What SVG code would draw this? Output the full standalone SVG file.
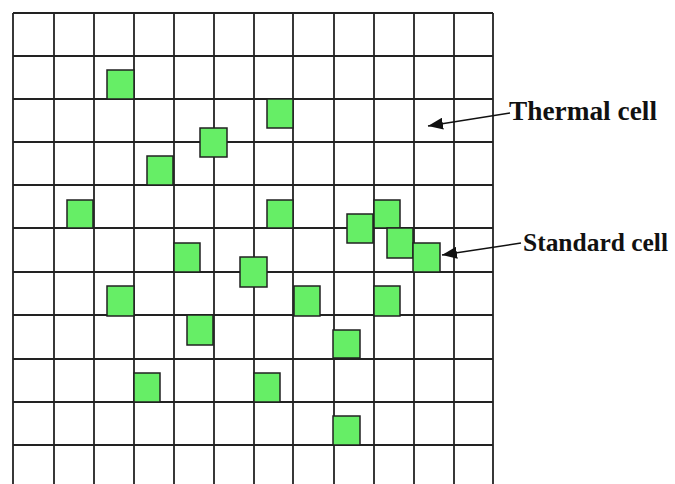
<svg xmlns="http://www.w3.org/2000/svg" width="675" height="484" viewBox="0 0 675 484">
<style>
.grid line{stroke:#222;stroke-width:1.8}
.cell{fill:#66ee66;stroke:#222;stroke-width:1.5}
.lbl{font-family:"Liberation Serif","Times New Roman",serif;font-weight:bold;font-size:27px;fill:#111}
.lbl2{font-size:26px}
.arr{stroke:#111;stroke-width:1.5;fill:none}
</style>
<defs>
<marker id="ah" markerWidth="16" markerHeight="12" refX="15" refY="6" orient="auto" markerUnits="userSpaceOnUse">
<path d="M0,0 L15,6 L0,12 Z" fill="#111"/>
</marker>
</defs>
<rect width="675" height="484" fill="#fff"/>
<g id="grid" class="grid">
<line x1="13" y1="13" x2="13" y2="484"/>
<line x1="54" y1="13" x2="54" y2="484"/>
<line x1="94" y1="13" x2="94" y2="484"/>
<line x1="134" y1="13" x2="134" y2="484"/>
<line x1="174" y1="13" x2="174" y2="484"/>
<line x1="214" y1="13" x2="214" y2="484"/>
<line x1="254" y1="13" x2="254" y2="484"/>
<line x1="293" y1="13" x2="293" y2="484"/>
<line x1="334" y1="13" x2="334" y2="484"/>
<line x1="374" y1="13" x2="374" y2="484"/>
<line x1="414" y1="13" x2="414" y2="484"/>
<line x1="454" y1="13" x2="454" y2="484"/>
<line x1="493" y1="13" x2="493" y2="484"/>
<line x1="13" y1="13" x2="493" y2="13"/>
<line x1="13" y1="56" x2="493" y2="56"/>
<line x1="13" y1="99" x2="493" y2="99"/>
<line x1="13" y1="142" x2="493" y2="142"/>
<line x1="13" y1="185" x2="493" y2="185"/>
<line x1="13" y1="228" x2="493" y2="228"/>
<line x1="13" y1="272" x2="493" y2="272"/>
<line x1="13" y1="315" x2="493" y2="315"/>
<line x1="13" y1="359" x2="493" y2="359"/>
<line x1="13" y1="402" x2="493" y2="402"/>
<line x1="13" y1="445" x2="493" y2="445"/>
</g>
<g id="cells">
<rect id="c1" class="cell" x="107" y="70" width="27" height="29"/>
<rect id="c2" class="cell" x="267" y="99" width="26" height="29"/>
<rect id="c3" class="cell" x="200" y="128" width="27" height="29"/>
<rect id="c4" class="cell" x="147" y="156" width="26" height="29"/>
<rect id="c5" class="cell" x="67" y="200" width="26" height="28"/>
<rect id="c6" class="cell" x="267" y="200" width="26" height="28"/>
<rect id="c7" class="cell" x="374" y="200" width="26" height="28"/>
<rect id="c8" class="cell" x="347" y="214" width="26" height="29"/>
<rect id="c9" class="cell" x="387" y="228" width="26" height="30"/>
<rect id="c10" class="cell" x="413" y="243" width="27" height="29"/>
<rect id="c11" class="cell" x="174" y="243" width="26" height="29"/>
<rect id="c12" class="cell" x="240" y="257" width="27" height="30"/>
<rect id="c13" class="cell" x="107" y="286" width="27" height="30"/>
<rect id="c14" class="cell" x="294" y="286" width="26" height="30"/>
<rect id="c15" class="cell" x="374" y="286" width="26" height="30"/>
<rect id="c16" class="cell" x="187" y="315" width="26" height="30"/>
<rect id="c17" class="cell" x="333" y="330" width="27" height="28"/>
<rect id="c18" class="cell" x="134" y="373" width="26" height="29"/>
<rect id="c19" class="cell" x="254" y="373" width="26" height="29"/>
<rect id="c20" class="cell" x="333" y="416" width="27" height="29"/>
</g>
<g id="connectors">
<line class="arr" x1="510" y1="113" x2="428" y2="126" marker-end="url(#ah)"/>
<line class="arr" x1="521" y1="243" x2="442" y2="255" marker-end="url(#ah)"/>
</g>
<g id="label-thermal">
<text class="lbl" x="509" y="120" textLength="148" lengthAdjust="spacingAndGlyphs">Thermal cell</text>
</g>
<g id="label-standard">
<text class="lbl lbl2" x="523" y="251" textLength="145" lengthAdjust="spacingAndGlyphs">Standard cell</text>
</g>
</svg>
